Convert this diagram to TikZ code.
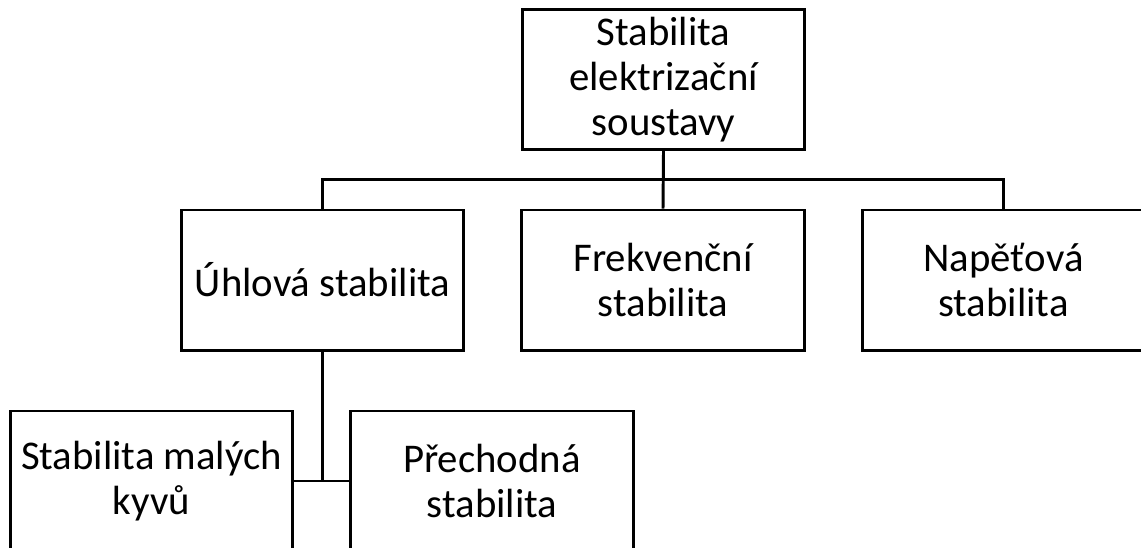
\documentclass[tikz,border=0pt]{standalone}
\usepackage{fontspec}
\setmainfont{Carlito}
\usetikzlibrary{calc,positioning}

\tikzset{
  blok/.style={rectangle,draw=black,line width=2.1pt,minimum width=7.05cm,minimum height=3.5cm,
    align=center,font=\fontsize{29}{32.2}\selectfont,inner sep=2pt},
  spoj/.style={draw=black,line width=2.1pt}
}

\begin{document}
\begin{tikzpicture}[x=0.025cm,y=-0.025cm]

  \clip (0,0) rectangle (1141,547);
  \fill[white] (0,0) rectangle (1141,547);

  \node (stab) [blok] at (663.5,79.5) {Stabilita\\elektrizační\\soustavy};

  \node (uhel)  [blok] at (322.5,280) {Úhlová stabilita};
  \node (frekv) [blok] at (663,280) {Frekvenční\\stabilita};
  \node (nap)   [blok] at (1003.5,280) {Napěťová\\stabilita};

  \node (maly)  [blok] at (151.5,481) {Stabilita malých\\kyvů};
  \node (prech) [blok] at (492,481) {Přechodná\\stabilita};

  \coordinate (bus) at ($(stab.south)!.5!(frekv.north)$);

  \draw [spoj] (stab.south) -- (frekv.north);
  \draw [spoj] (uhel.north) |- (bus) -| (nap.north);

  \draw [spoj] (uhel.south) |- (maly.east);
  \draw [spoj] (uhel.south) |- (prech.west);

\end{tikzpicture}
\end{document}
